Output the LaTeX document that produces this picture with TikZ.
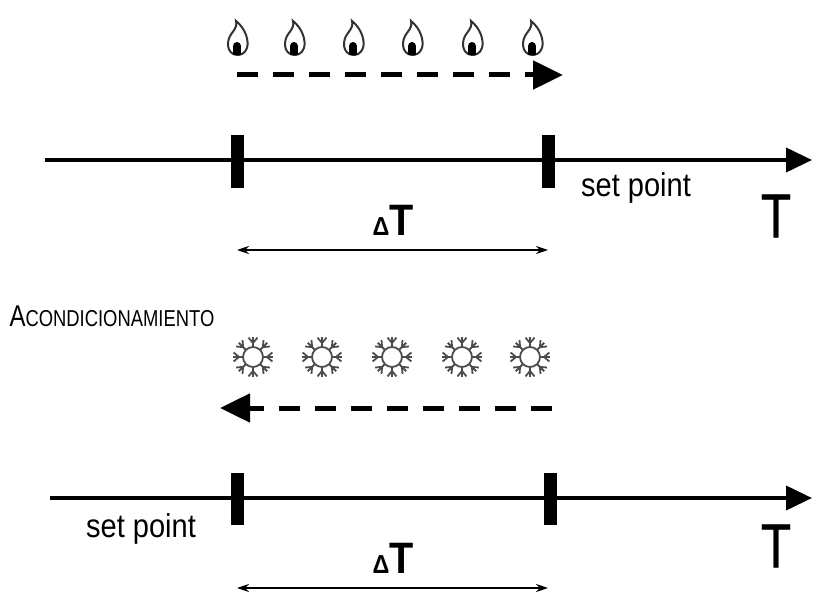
\documentclass[tikz,border=0pt]{standalone}
\usepackage{fontspec}
\setmainfont{Liberation Sans}
\usetikzlibrary{arrows.meta}
\begin{document}
\begin{tikzpicture}[x=1pt,y=-1pt,
  axis/.style={line width=4pt,-{Triangle[length=26pt,width=24pt]}},
  tickbar/.style={line width=13pt},
  dasharrow/.style={line width=5pt,dash pattern=on 21pt off 15pt,-{Triangle[length=30pt,width=28pt]}},
  delta/.style={line width=1.3pt,{Stealth[length=12pt,width=8pt]}-{Stealth[length=12pt,width=8pt]}},
  lbl/.style={font=\fontsize{33}{35}\selectfont\addfontfeatures{FakeStretch=0.88}},
  big/.style={font=\fontsize{62}{64}\selectfont\addfontfeatures{FakeStretch=0.8,FakeBold=0.6}},
  dt/.style={font=\fontsize{44}{46}\selectfont\bfseries\addfontfeatures{FakeStretch=0.9}},
  flake/.style={line width=1.8pt,black!70}]
\useasboundingbox (0,0) rectangle (818,601);
% flames
\foreach \i/\x in {1/237,2/294,3/353,4/412,5/472,6/532}{
  \draw[line width=2pt,black!80] (\x,55) .. controls (\x-11,54) and (\x-11,40) .. (\x-5,33)
     .. controls (\x-1,28) and (\x,25) .. (\x-1,21)
     .. controls (\x+9,29) and (\x+12,41) .. (\x+10,48) .. controls (\x+8,54) and (\x+3,55) .. (\x,55);
  \fill (\x-4,55) rectangle (\x+4,46); \fill (\x,46) circle (4);
  \coordinate (f\i) at (\x,55);
}
\coordinate (da1) at (237,75); \coordinate (da2) at (563,75);
\draw[dasharrow] (da1) -- (da2);
% top axis
\coordinate (a1) at (45,160); \coordinate (a2) at (812,160);
\draw[axis] (a1) -- (a2);
\coordinate (t1a) at (237,135); \coordinate (t1b) at (237,188);
\coordinate (t2a) at (548,135); \coordinate (t2b) at (548,188);
\draw[tickbar] (t1a) -- (t1b); \draw[tickbar] (t2a) -- (t2b);
\node[lbl] (sp1) at (636,188) {set point};
\node[big] (T1) at (776,216) {T};
\node[dt] (dT1) at (393,220) {{\fontsize{26}{28}\selectfont Δ}T};
\coordinate (d1a) at (237,250); \coordinate (d1b) at (548,250);
\draw[delta] (d1a) -- (d1b);
% bottom
\node[anchor=west,font=\fontsize{30}{32}\selectfont\addfontfeatures{FakeStretch=0.8}] (ac) at (6,316) {A{\fontsize{23}{25}\selectfont CONDICIONAMIENTO}};
\foreach \i/\x in {1/253,2/322,3/392,4/462,5/530}{
  \begin{scope}[shift={(\x,357)}]
  \draw[flake] (0,0) circle (10);
  \foreach \a in {0,45,...,315}{
    \draw[flake] (\a:10) -- (\a:20);
    \draw[flake] (\a:14) -- ++(\a+40:7);
    \draw[flake] (\a:14) -- ++(\a-40:7);
  }
  \end{scope}
  \coordinate (s\i) at (\x,357);
}
\coordinate (db1) at (552,408); \coordinate (db2) at (220,408);
\draw[dasharrow] (db1) -- (db2);
\coordinate (b1) at (50,498); \coordinate (b2) at (812,498);
\draw[axis] (b1) -- (b2);
\coordinate (u1a) at (237,473); \coordinate (u1b) at (237,525);
\coordinate (u2a) at (550,473); \coordinate (u2b) at (550,525);
\draw[tickbar] (u1a) -- (u1b); \draw[tickbar] (u2a) -- (u2b);
\node[lbl] (sp2) at (141,529) {set point};
\node[big] (T2) at (776,546) {T};
\node[dt] (dT2) at (393,558) {{\fontsize{26}{28}\selectfont Δ}T};
\coordinate (d2a) at (237,588); \coordinate (d2b) at (548,588);
\draw[delta] (d2a) -- (d2b);
\end{tikzpicture}
\end{document}
